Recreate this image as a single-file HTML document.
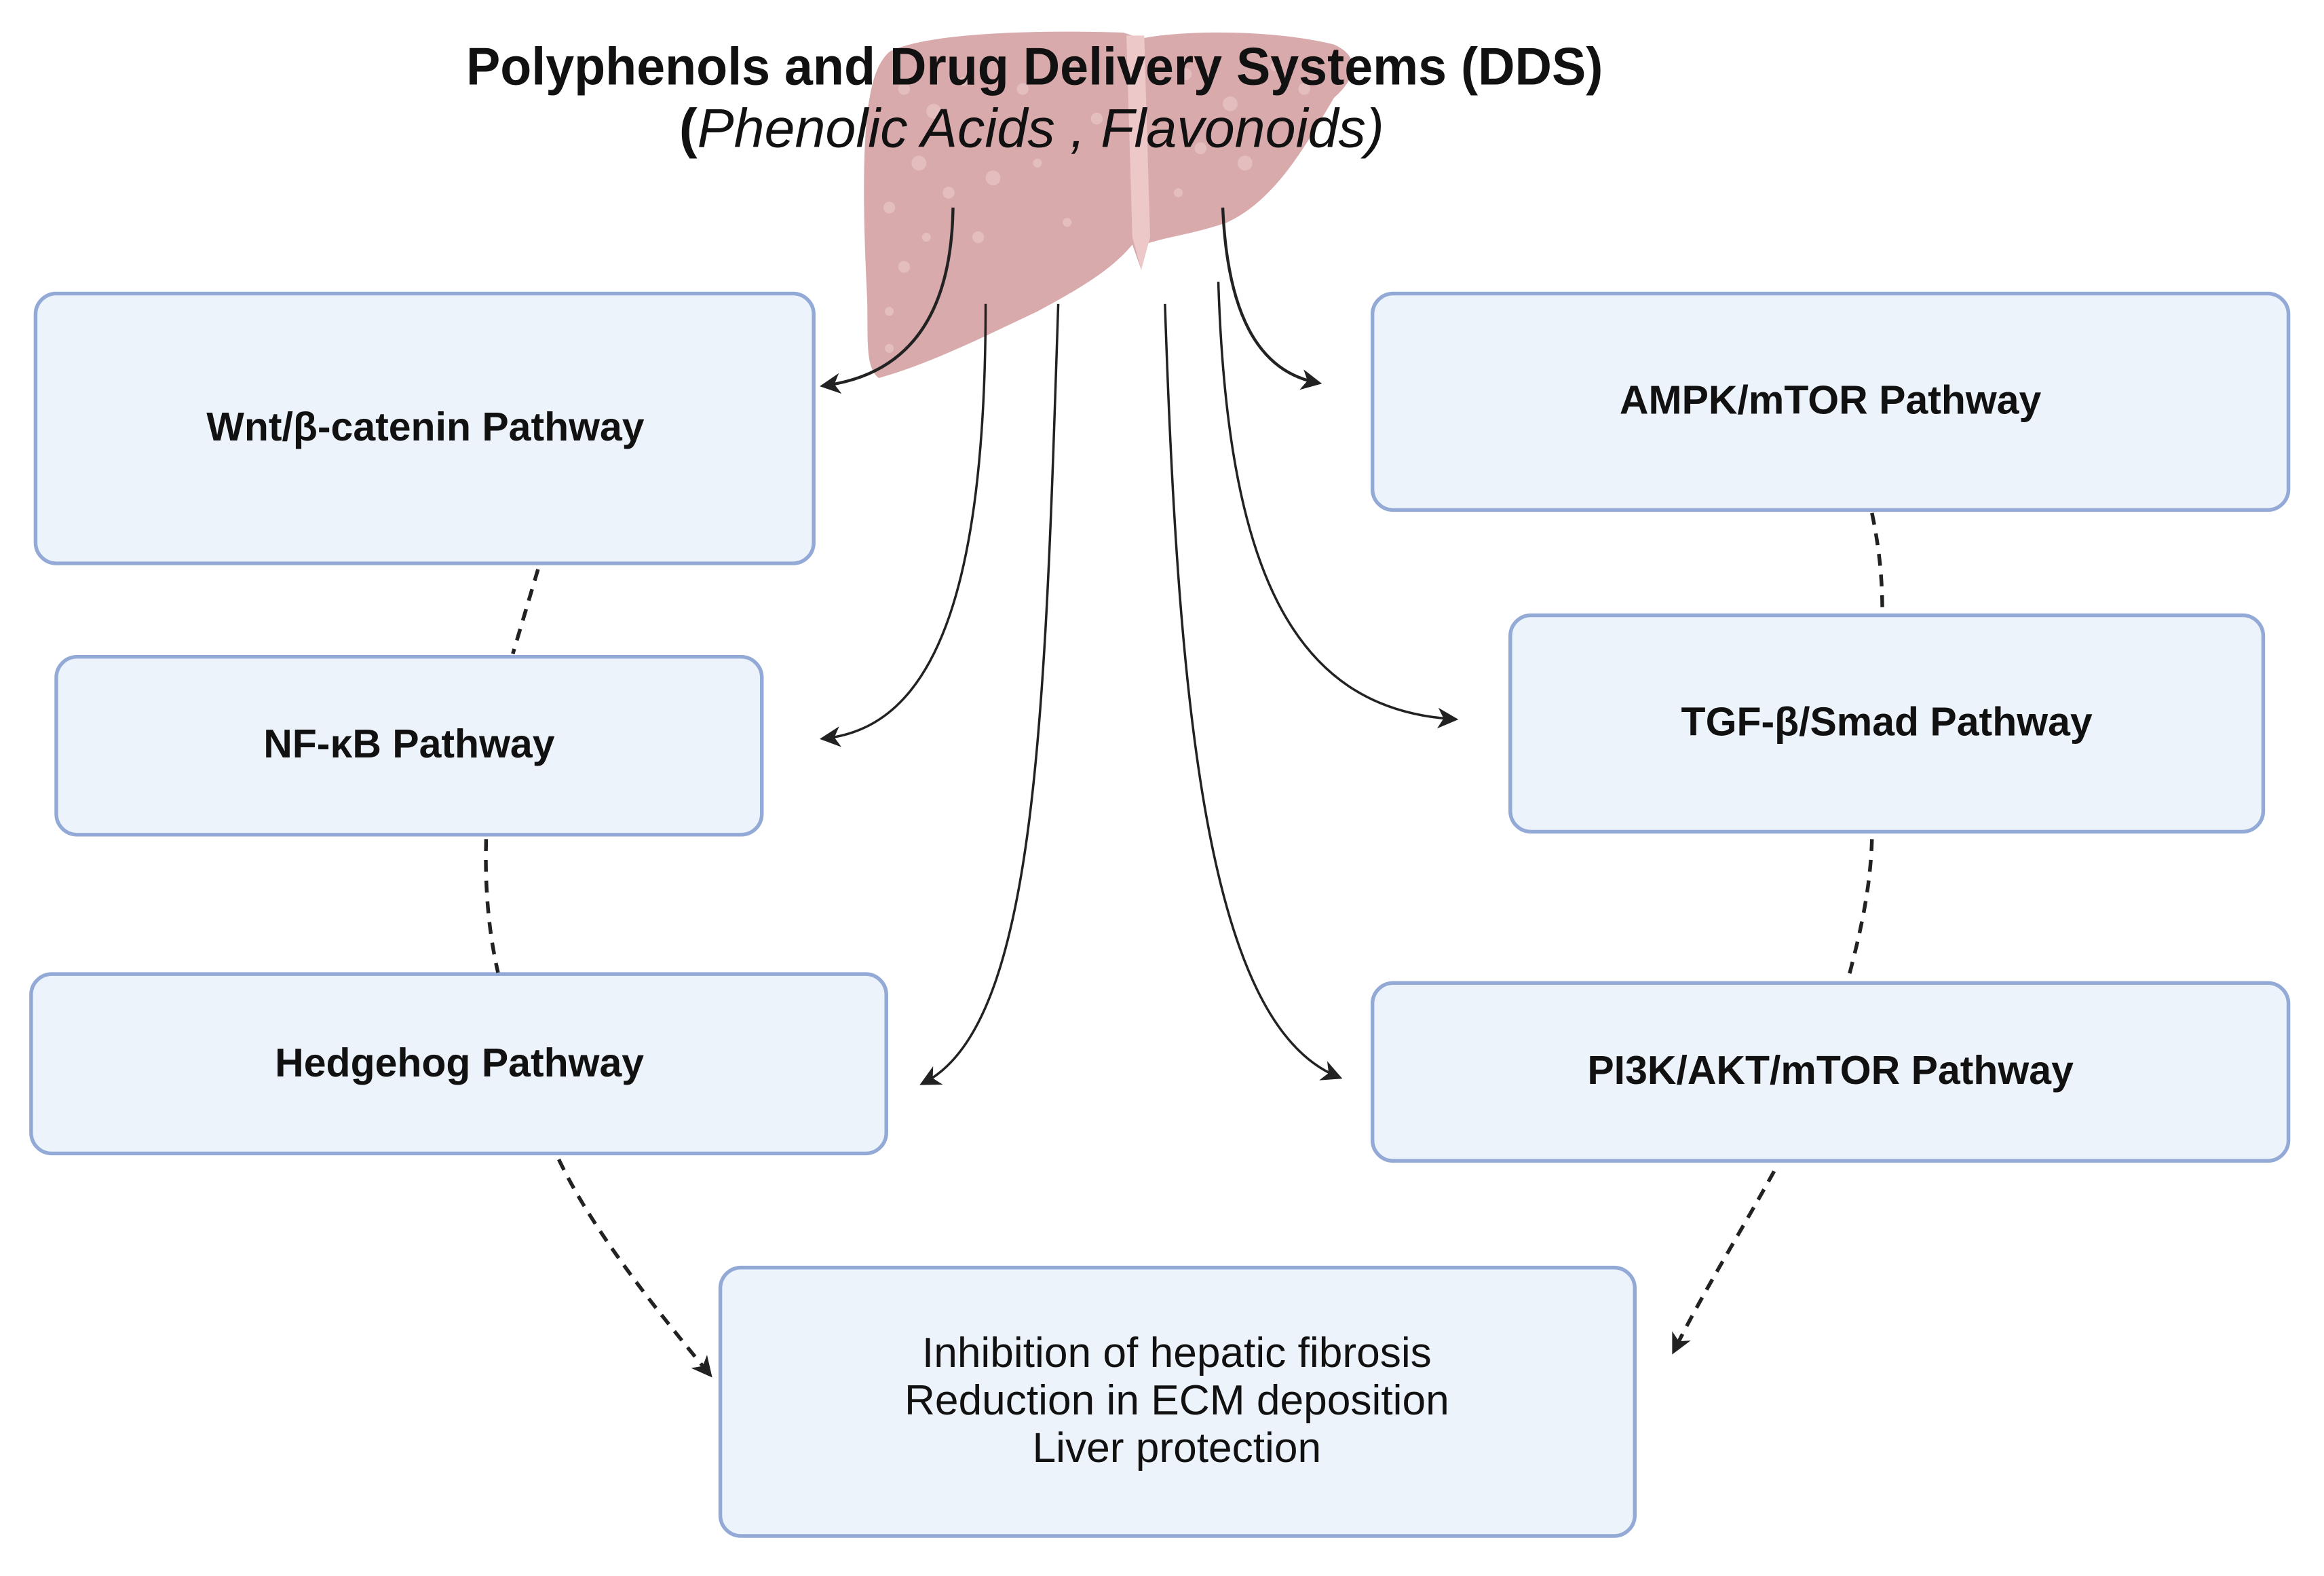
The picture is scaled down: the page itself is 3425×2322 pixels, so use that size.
<!DOCTYPE html>
<html><head><meta charset="utf-8"><style>
html,body{margin:0;padding:0;background:#fff;}
svg{display:block;}
text{font-family:"Liberation Sans",sans-serif;}
</style></head><body>
<svg width="3425" height="2322" viewBox="0 0 1568 1063" preserveAspectRatio="none" xmlns="http://www.w3.org/2000/svg">
<defs>
<marker id="ah2" markerWidth="14" markerHeight="14" refX="10" refY="7" orient="auto" markerUnits="userSpaceOnUse">
<path d="M0,0 L14,7 L0,14 L4,7 Z" fill="#222"/>
</marker>
</defs>
<!-- liver -->
<g>
<path d="M600,35 C625,22 700,20 758,22 L770,26 C800,20 860,20 900,30 C918,38 916,52 900,66 C880,100 860,135 828,150 C805,158 785,160 772,165 L770,182 L764,165 C750,182 728,195 700,210 C662,228 628,245 593,255 C583,248 586,225 585,200 C583,160 582,120 584,90 C586,62 590,44 600,35 Z" fill="#d8aaac"/>
<path d="M760,24 L772,24 L776,160 L770,182 L764,160 Z" fill="#ecc9c8"/>
<g fill="#e6c0c1" opacity="0.9">
<circle cx="610" cy="60" r="4"/><circle cx="630" cy="75" r="5"/><circle cx="650" cy="55" r="3"/><circle cx="690" cy="60" r="4"/>
<circle cx="720" cy="45" r="3"/><circle cx="740" cy="80" r="4"/><circle cx="620" cy="110" r="5"/><circle cx="600" cy="140" r="4"/>
<circle cx="640" cy="130" r="4"/><circle cx="670" cy="120" r="5"/><circle cx="700" cy="110" r="3"/><circle cx="610" cy="180" r="4"/>
<circle cx="600" cy="210" r="3"/><circle cx="625" cy="160" r="3"/><circle cx="660" cy="160" r="4"/><circle cx="720" cy="150" r="3"/>
<circle cx="800" cy="50" r="4"/><circle cx="830" cy="70" r="5"/><circle cx="860" cy="45" r="3"/><circle cx="880" cy="60" r="4"/>
<circle cx="810" cy="100" r="4"/><circle cx="840" cy="110" r="5"/><circle cx="795" cy="130" r="3"/><circle cx="600" cy="235" r="3"/>
</g>
</g>
<!-- title -->
<text x="698" y="57" text-anchor="middle" font-size="35.5" font-weight="bold" fill="#111" textLength="767" lengthAdjust="spacingAndGlyphs">Polyphenols and Drug Delivery Systems (DDS)</text>
<text x="696" y="99" text-anchor="middle" font-size="37" fill="#111"><tspan font-weight="bold">(</tspan><tspan font-style="italic">Phenolic Acids , Flavonoids)</tspan></text>
<!-- boxes -->
<g fill="#edf3fb" stroke="#93a9d6" stroke-width="2.5">
<rect x="24" y="198" width="525" height="182" rx="14"/>
<rect x="38" y="443" width="476" height="120" rx="14"/>
<rect x="21" y="657" width="577" height="121" rx="14"/>
<rect x="926" y="198" width="618" height="146" rx="14"/>
<rect x="1019" y="415" width="508" height="146" rx="14"/>
<rect x="926" y="663" width="618" height="120" rx="14"/>
<rect x="486" y="855" width="617" height="181" rx="14"/>
</g>
<g font-size="27" font-weight="bold" fill="#111" text-anchor="middle">
<text x="287" y="297">Wnt/β-catenin Pathway</text>
<text x="276" y="511">NF-κB Pathway</text>
<text x="310" y="726">Hedgehog Pathway</text>
<text x="1235" y="279">AMPK/mTOR Pathway</text>
<text x="1273" y="496">TGF-β/Smad Pathway</text>
<text x="1235" y="731">PI3K/AKT/mTOR Pathway</text>
</g>
<g font-size="28.5" fill="#111" text-anchor="middle">
<text x="794" y="922">Inhibition of hepatic fibrosis</text>
<text x="794" y="954">Reduction in ECM deposition</text>
<text x="794" y="986">Liver protection</text>
</g>
<!-- curved arrows -->
<g fill="none" stroke="#222" stroke-width="2">
<path d="M643,140 C642,210 615,252 557,260" marker-end="url(#ah2)"/>
<path d="M825,140 C828,210 848,250 888,258" marker-end="url(#ah2)"/>
</g>
<g fill="none" stroke="#222" stroke-width="1.6">
<path d="M665,205 C665,400 630,490 557,498" marker-end="url(#ah2)"/>
<path d="M714,205 C705,480 700,690 624,730" marker-end="url(#ah2)"/>
<path d="M786,205 C795,480 815,690 902,726" marker-end="url(#ah2)"/>
<path d="M822,190 C828,380 870,478 980,485" marker-end="url(#ah2)"/>
</g>
<!-- dashed connectors -->
<g fill="none" stroke="#222" stroke-width="2.5" stroke-dasharray="8,6">
<path d="M363,384 L346,441"/>
<path d="M328,566 C327,600 330,630 336,656"/>
<path d="M1263,346 C1268,370 1270,390 1270,413"/>
<path d="M1263,566 C1262,600 1255,630 1247,660"/>
<path d="M377,782 C400,830 440,880 478,926" marker-end="url(#ah2)"/>
<path d="M1197,790 C1175,830 1150,870 1130,910" marker-end="url(#ah2)"/>
</g>
</svg>
</body></html>
